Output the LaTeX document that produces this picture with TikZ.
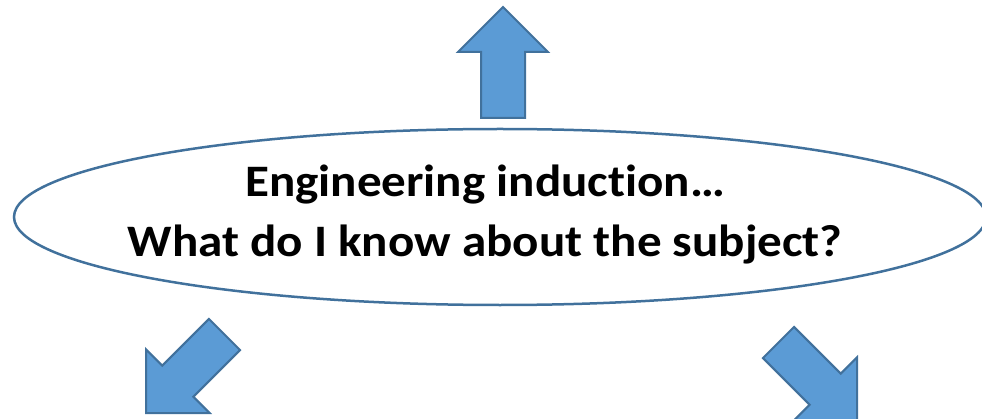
\documentclass[tikz,border=0pt]{standalone}
\usepackage{fontspec}
\setmainfont{Carlito}[Ligatures=NoCommon]
\usepackage{tikz}
\usetikzlibrary{calc,positioning,shapes.geometric}

\definecolor{arrowfill}{HTML}{5B9BD5}
\definecolor{arrowline}{HTML}{41719C}

\tikzset{
  blockarrow/.style={draw=arrowline,fill=arrowfill,line width=2pt,line join=miter},
  bubble/.style={ellipse,draw=arrowline,line width=2.5pt,inner sep=0pt},
  headline/.style={font=\bfseries\fontsize{45}{60}\selectfont,anchor=base,xscale=1.09,inner sep=0pt}
}

\begin{document}
\begin{tikzpicture}[x=1pt,y=1pt]
  \useasboundingbox (0,0) rectangle (982,418);
  \node[bubble,minimum width=972pt,minimum height=176pt] (ell) at (500,201) {};
  \node[headline] (title) at (485,221) {Engineering induction\ldots};
  \node[headline] (question) at (485,161) {What do I know about the subject?};
  \coordinate (tipUp) at (503,411);
  \coordinate (tipLeft) at (146,5);
  \coordinate (tipRight) at (857,-3);
  \foreach \tip/\ang in {tipUp/0,tipLeft/135,tipRight/-135}{
    \begin{scope}[shift={(\tip)},rotate=\ang]
      \draw[blockarrow] (0,0) -- (45,-45) -- (22,-45) -- (22,-111)
        -- (-22,-111) -- (-22,-45) -- (-45,-45) -- cycle;
    \end{scope}
  }
\end{tikzpicture}
\end{document}
